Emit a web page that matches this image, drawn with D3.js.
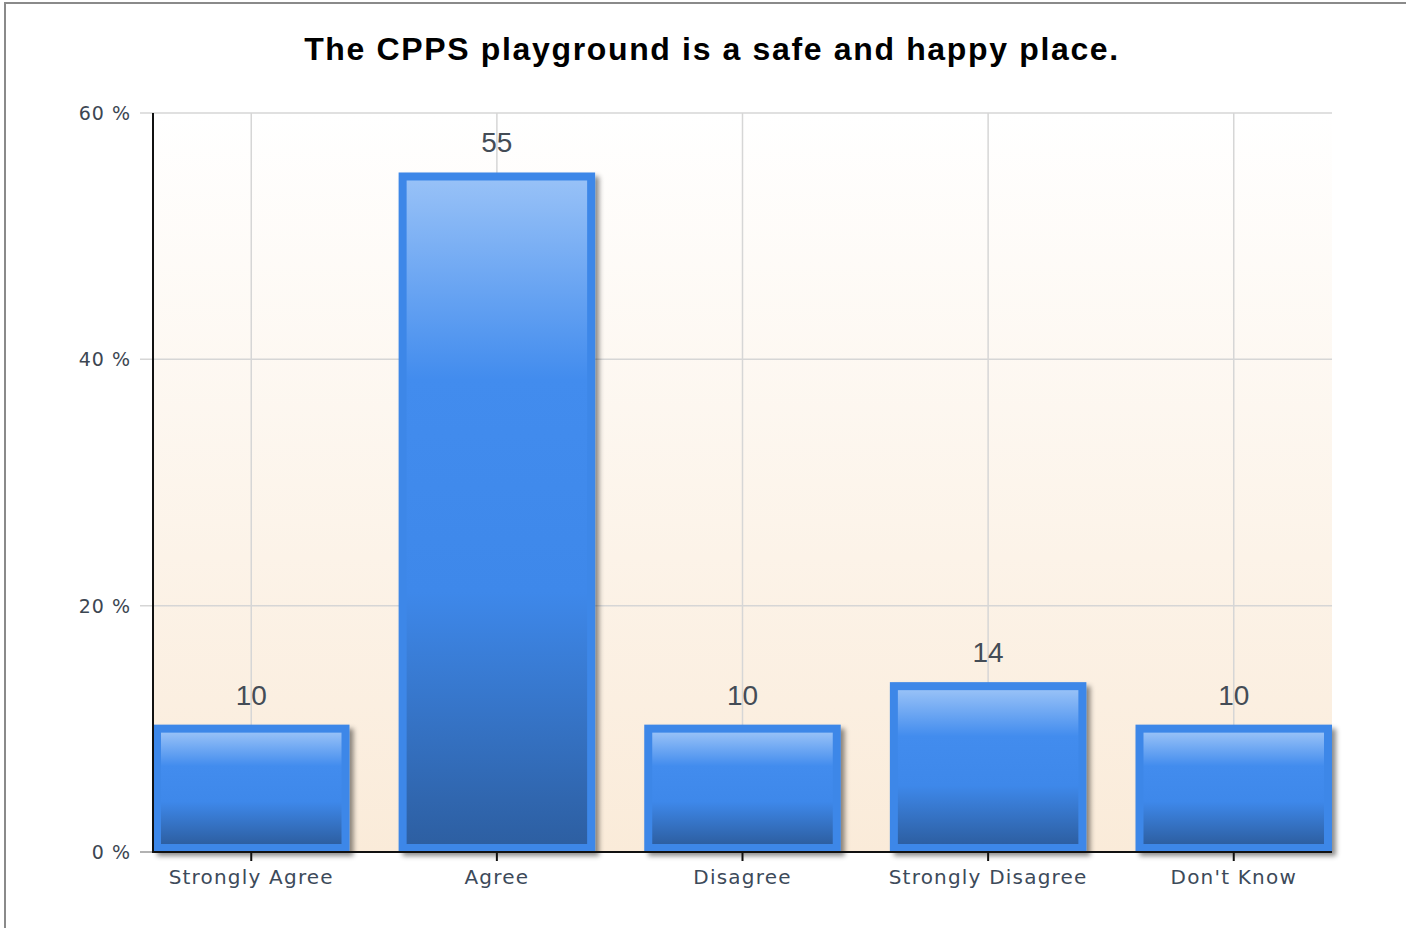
<!DOCTYPE html>
<html>
<head>
<meta charset="utf-8">
<script src="https://cdn.jsdelivr.net/npm/d3@7"></script>
<style>
  body { margin: 0; background: #fff; }
  svg { display: block; }
</style>
</head>
<body>
<svg id="chart" width="1406" height="928"></svg>
<script>
// chart data
var categories = ["Strongly Agree", "Agree", "Disagree", "Strongly Disagree", "Don't Know"];
var percents = [10.34, 55.17, 10.34, 13.79, 10.34];
var yTicks = [0, 20, 40, 60];
var title = "The CPPS playground is a safe and happy place.";

var data = categories.map(function(c, i) { return { name: c, value: percents[i] }; });

// plot box
var plotLeft = 153, plotRight = 1332, plotTop = 113, plotBottom = 852;

var svg = d3.select('#chart');

var xScale = d3.scaleBand().domain(categories).range([plotLeft, plotRight])
    .paddingInner(0.2).paddingOuter(0);
var yScale = d3.scaleLinear().domain([0, 60]).range([plotBottom, plotTop]);

var defs = svg.append('defs');

// background gradient of the plot area
var bg = defs.append('linearGradient').attr('id', 'bg')
    .attr('x1', 0).attr('y1', 0).attr('x2', 0).attr('y2', 1);
bg.append('stop').attr('offset', '0%').attr('stop-color', '#ffffff');
bg.append('stop').attr('offset', '100%').attr('stop-color', '#faebd9');

// bar fill gradient
var bar = defs.append('linearGradient').attr('id', 'barFill')
    .attr('x1', 0).attr('y1', 0).attr('x2', 0).attr('y2', 1);
bar.append('stop').attr('offset', '0%').attr('stop-color', '#97c1f7');
bar.append('stop').attr('offset', '30%').attr('stop-color', '#428cee');
bar.append('stop').attr('offset', '62%').attr('stop-color', '#3e88ea');
bar.append('stop').attr('offset', '100%').attr('stop-color', '#2d5fa2');

var shadow = defs.append('filter').attr('id', 'shadow')
    .attr('x', '-10%').attr('y', '-10%').attr('width', '130%').attr('height', '130%');
shadow.append('feDropShadow').attr('dx', 4).attr('dy', 4).attr('stdDeviation', 2.5)
    .attr('flood-color', '#000').attr('flood-opacity', 0.45);

// outer frame
svg.append('rect')
    .attr('x', 5).attr('y', 3).attr('width', 1410).attr('height', 940)
    .attr('fill', '#fff').attr('stroke', '#8a8a8a').attr('stroke-width', 2);

// title
svg.append('text')
    .attr('x', 712).attr('y', 60)
    .attr('text-anchor', 'middle')
    .style('font-family', 'Liberation Sans, Arial, sans-serif')
    .style('font-weight', 'bold')
    .style('font-size', '32px')
    .style('letter-spacing', '1.65px')
    .style('fill', '#000')
    .text(title);

// plot background
svg.append('rect')
    .attr('x', plotLeft).attr('y', plotTop)
    .attr('width', plotRight - plotLeft).attr('height', plotBottom - plotTop)
    .attr('fill', 'url(#bg)');

// horizontal grid lines + y ticks
svg.append('g').selectAll('line')
    .data(yTicks.filter(function(t) { return t > 0; }))
    .enter().append('line')
    .attr('x1', plotLeft - 13).attr('x2', plotRight)
    .attr('y1', function(d) { return yScale(d); })
    .attr('y2', function(d) { return yScale(d); })
    .attr('stroke', '#d6d6d6').attr('stroke-width', 1.5);

svg.append('line')
    .attr('x1', plotLeft - 13).attr('x2', plotLeft)
    .attr('y1', plotBottom).attr('y2', plotBottom)
    .attr('stroke', '#999').attr('stroke-width', 1.5);

// vertical grid lines at category centres
svg.append('g').selectAll('line')
    .data(categories)
    .enter().append('line')
    .attr('x1', function(d) { return xScale(d) + xScale.bandwidth() / 2; })
    .attr('x2', function(d) { return xScale(d) + xScale.bandwidth() / 2; })
    .attr('y1', plotTop).attr('y2', plotBottom)
    .attr('stroke', '#d6d6d6').attr('stroke-width', 1.5);

// y labels
svg.append('g').selectAll('text')
    .data(yTicks)
    .enter().append('text')
    .attr('x', 131)
    .attr('y', function(d) { return yScale(d) + 7; })
    .attr('text-anchor', 'end')
    .style('font-family', 'DejaVu Sans, Verdana, sans-serif')
    .style('font-size', '19px')
    .style('letter-spacing', '1px')
    .style('fill', '#3c4652')
    .text(function(d) { return d + ' %'; });

// bars
var bars = svg.append('g').selectAll('g.bar')
    .data(data)
    .enter().append('g').attr('class', 'bar');

bars.append('rect')
    .attr('x', function(d) { return xScale(d.name); })
    .attr('y', function(d) { return yScale(d.value); })
    .attr('width', xScale.bandwidth())
    .attr('height', function(d) { return plotBottom - yScale(d.value); })
    .attr('fill', '#3d87e8')
    .attr('filter', 'url(#shadow)');

bars.append('rect')
    .attr('x', function(d) { return xScale(d.name) + 8; })
    .attr('y', function(d) { return yScale(d.value) + 8; })
    .attr('width', xScale.bandwidth() - 16)
    .attr('height', function(d) { return plotBottom - yScale(d.value) - 16; })
    .attr('fill', 'url(#barFill)');

// value labels
bars.append('text')
    .attr('x', function(d) { return xScale(d.name) + xScale.bandwidth() / 2; })
    .attr('y', function(d) { return yScale(d.value) - 20; })
    .attr('text-anchor', 'middle')
    .style('font-family', 'Liberation Sans, Arial, sans-serif')
    .style('font-size', '28px')
    .style('fill', '#444c56')
    .text(function(d) { return d3.format('.0f')(d.value); });

// axis lines
svg.append('line')
    .attr('x1', plotLeft).attr('x2', plotLeft).attr('y1', plotTop).attr('y2', plotBottom + 1)
    .attr('stroke', '#111').attr('stroke-width', 2);
svg.append('line')
    .attr('x1', plotLeft).attr('x2', plotRight).attr('y1', plotBottom).attr('y2', plotBottom)
    .attr('stroke', '#111').attr('stroke-width', 2);

// x ticks + labels
var xt = svg.append('g').selectAll('g')
    .data(categories)
    .enter().append('g')
    .attr('transform', function(d) { return 'translate(' + (xScale(d) + xScale.bandwidth() / 2) + ',0)'; });

xt.append('line')
    .attr('y1', plotBottom).attr('y2', plotBottom + 9)
    .attr('stroke', '#111').attr('stroke-width', 2);

xt.append('text')
    .attr('y', plotBottom + 32)
    .attr('text-anchor', 'middle')
    .style('font-family', 'DejaVu Sans, Verdana, sans-serif')
    .style('font-size', '20px')
    .style('letter-spacing', '1.2px')
    .style('fill', '#3c4a5a')
    .text(function(d) { return d; });
</script>
</body>
</html>
